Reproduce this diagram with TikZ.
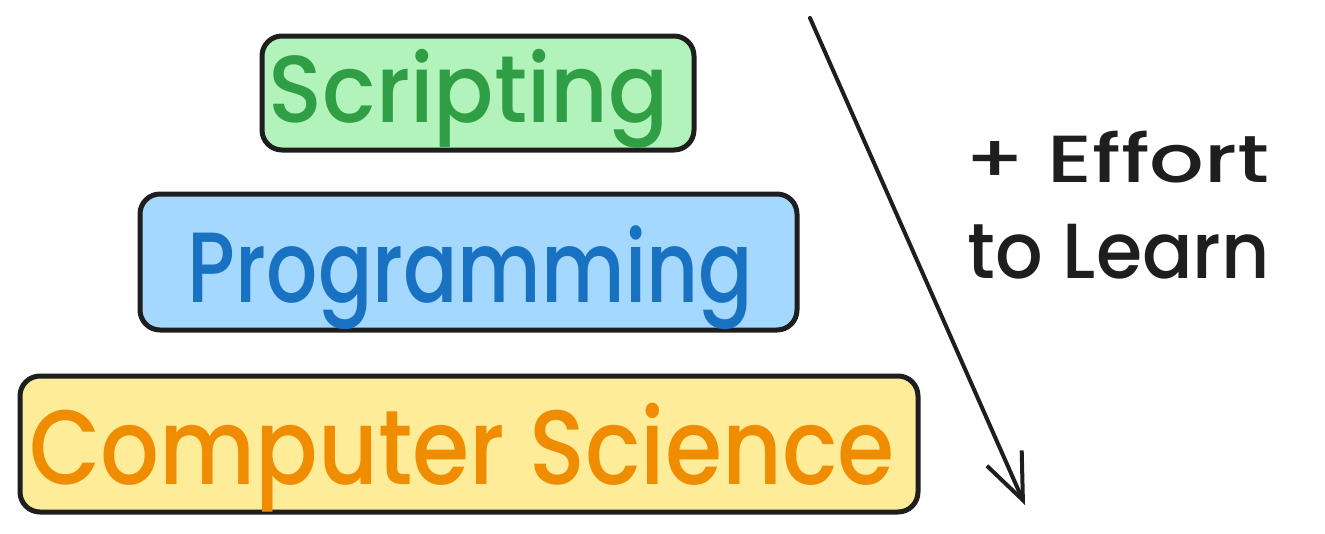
\documentclass[tikz,border=0pt]{standalone}
\usepackage{fontspec}
\setmainfont{Poppins}[BoldFont={Poppins Medium}]
\usepackage{graphicx}
\usetikzlibrary{arrows.meta}
\definecolor{ink}{HTML}{1E1E1E}
\definecolor{gfill}{HTML}{B2F2BB}
\definecolor{gtext}{HTML}{2F9E44}
\definecolor{bfill}{HTML}{A5D8FF}
\definecolor{btext}{HTML}{1971C2}
\definecolor{yfill}{HTML}{FFEC99}
\definecolor{ytext}{HTML}{F08C00}
\tikzset{
  layerbox/.style={draw=ink, line width=5pt, rounded corners=20pt, inner sep=0pt},
  label/.style={inner sep=0pt, anchor=center, font=\bfseries},
  arrowline/.style={draw=ink, line width=4pt, line cap=round, -{Straight Barb[length=46pt,width=38pt,line width=4pt]}}
}
\begin{document}
\begin{tikzpicture}[x=1pt,y=-1pt]
\useasboundingbox (0,0) rectangle (1325,533);
\node[layerbox, fill=gfill, minimum width=432pt, minimum height=114pt] (scr) at (478,93) {};
\node[layerbox, fill=bfill, minimum width=657pt, minimum height=136pt] (prog) at (468.5,262) {};
\node[layerbox, fill=yfill, minimum width=898pt, minimum height=136pt] (cs) at (469,444) {};
\node[label, text=gtext] (scrt) at (469,99) {\resizebox*{400pt}{99pt}{Scripting}};
\node[label, text=btext] (progt) at (470.5,278) {\resizebox*{565pt}{104pt}{Programming}};
\node[label, text=ytext] (cst) at (462,458) {\resizebox*{865pt}{109pt}{Computer Science}};
\node[label, text=ink] (eff) at (1117,157) {\resizebox*{305pt}{52pt}{+ Effort}};
\node[label, text=ink] (learn) at (1119,252) {\resizebox*{302pt}{55pt}{to Learn}};
\coordinate (a0) at (810,18);
\coordinate (a1) at (1025,505);
\draw[arrowline] (a0) -- (a1);
\end{tikzpicture}
\end{document}
